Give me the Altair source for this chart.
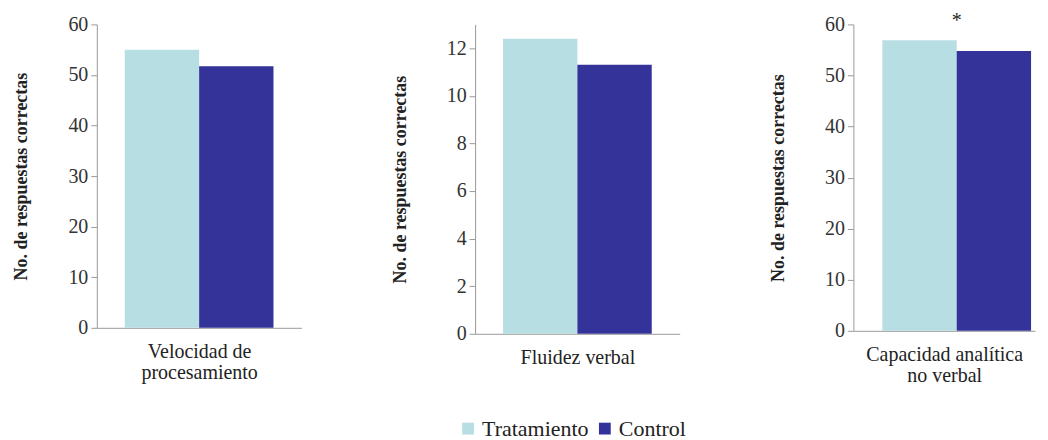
import altair as alt
import pandas as pd

# ---- data ----
categories = ["Velocidad de procesamiento", "Fluidez verbal", "Capacidad analítica no verbal"]
x_titles = [["Velocidad de", "procesamiento"], ["Fluidez verbal"], ["Capacidad analítica", "no verbal"]]
groups = ["Tratamiento", "Control"]
tratamiento = [55.0, 12.4, 56.9]
control = [51.7, 11.3, 54.8]
y_max = [60, 13, 60]
y_step = [10, 2, 10]
significance = ["", "", "*"]
colors = ["#b7dee2", "#333399"]

FONT = "Liberation Serif"
panel_w = [205, 205, 182]
panel_h = [304, 310, 307]
pad_outer = [0.376, 0.376, 0.2215]
band_align = [0.5, 0.5, 0.88]


def panel(i):
    df = pd.DataFrame({"grupo": groups, "valor": [tratamiento[i], control[i]]})
    x = alt.X(
        "grupo:N",
        sort=groups,
        scale=alt.Scale(paddingInner=0, paddingOuter=pad_outer[i], align=band_align[i]),
        axis=alt.Axis(labels=False, ticks=False, title=x_titles[i]),
    )
    y = alt.Y(
        "valor:Q",
        scale=alt.Scale(domain=[0, y_max[i]], nice=False, zero=True),
        axis=alt.Axis(
            values=list(range(0, y_max[i] + 1, y_step[i])),
            title="No. de respuestas correctas",
        ),
    )
    bars = alt.Chart(df).mark_bar().encode(
        x=x,
        y=y,
        color=alt.Color(
            "grupo:N",
            sort=groups,
            scale=alt.Scale(domain=groups, range=colors),
            legend=alt.Legend(title=None),
        ),
    )
    layers = [bars]
    if significance[i]:
        sdf = pd.DataFrame({
            "grupo": ["Control"],
            "valor": [max(tratamiento[i], control[i])],
            "sig": [significance[i]],
        })
        star = alt.Chart(sdf).mark_text(
            font=FONT, fontSize=20, baseline="top", dy=-29, color="#222222"
        ).encode(
            x=alt.X("grupo:N", sort=groups, bandPosition=0),
            y=alt.Y("valor:Q"),
            text="sig:N",
        )
        layers.append(star)
    return alt.layer(*layers).properties(width=panel_w[i], height=panel_h[i])


chart = alt.hconcat(
    panel(0), panel(1), panel(2), spacing=174, bounds="flush"
).properties(
    padding={"left": 5, "top": 2, "right": 5, "bottom": 5}
).configure_view(
    stroke=None
).configure_axis(
    grid=False,
    labelFont=FONT,
    titleFont=FONT,
    labelColor="#333333",
    titleColor="#222222",
    domainColor="#9a9a9a",
    tickColor="#9a9a9a",
).configure_axisY(
    labelFontSize=20,
    tickSize=6,
    labelPadding=3,
    minExtent=45,
    maxExtent=45,
    titleFontSize=18,
    titleFontWeight="bold",
    titlePadding=21,
).configure_axisX(
    titleFontSize=20,
    titleFontWeight="normal",
    titlePadding=14,
    titleLineHeight=21,
).configure_legend(
    orient="none",
    legendX=361,
    legendY=394,
    direction="horizontal",
    symbolType="square",
    symbolSize=140,
    symbolStrokeWidth=0,
    labelFont=FONT,
    labelFontSize=22,
    labelColor="#222222",
    columnPadding=5,
    labelOffset=3,
)

chart.save("out.html", embed_options={"renderer": "svg", "actions": False})
